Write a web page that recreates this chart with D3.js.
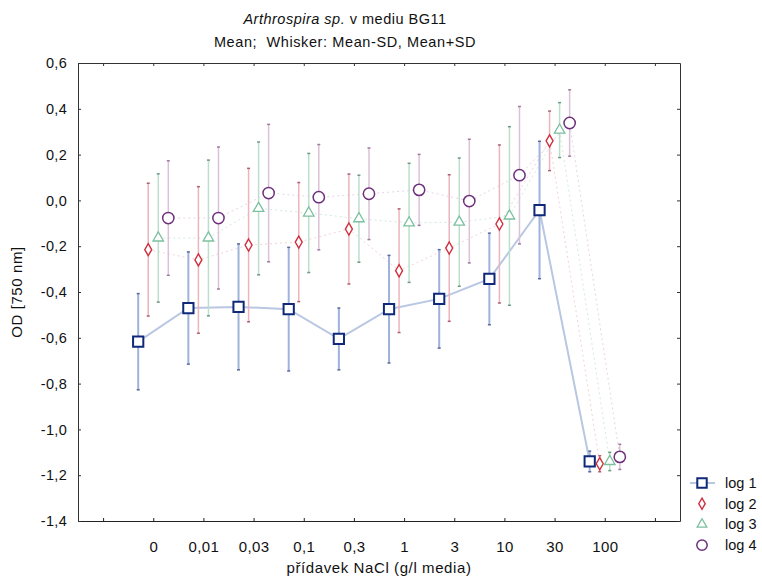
<!DOCTYPE html>
<html>
<head>
<meta charset="utf-8">
<script src="https://cdn.jsdelivr.net/npm/d3@7"></script>
<style>
  body { margin: 0; background: #fff; }
  svg { font-family: "Liberation Sans", Arial, sans-serif; }
</style>
</head>
<body>
<svg width="762" height="578"></svg>
<script>
// NaCl additions on the x axis (categories)
var categories = ["0", "0,01", "0,03", "0,1", "0,3", "1", "3", "10", "30", "100"];
var seriesNames = ["log 1", "log 2", "log 3", "log 4"];

// means and standard deviations per series
var log1Mean = [-0.617, -0.470, -0.465, -0.475, -0.605, -0.475, -0.430, -0.343, -0.042, -1.140];
var log1Sd   = [0.210, 0.245, 0.275, 0.270, 0.135, 0.235, 0.215, 0.200, 0.300, 0.045];
var log2Mean = [-0.215, -0.260, -0.195, -0.182, -0.125, -0.307, -0.208, -0.103, 0.260, -1.150];
var log2Sd   = [0.290, 0.320, 0.335, 0.260, 0.240, 0.270, 0.320, 0.345, 0.130, 0.035];
var log3Mean = [-0.164, -0.164, -0.035, -0.055, -0.080, -0.098, -0.095, -0.068, 0.307, -1.140];
var log3Sd   = [0.280, 0.340, 0.290, 0.260, 0.190, 0.260, 0.280, 0.390, 0.120, 0.040];
var log4Mean = [-0.077, -0.077, 0.032, 0.014, 0.029, 0.046, -0.003, 0.110, 0.338, -1.120];
var log4Sd   = [0.250, 0.310, 0.300, 0.230, 0.200, 0.155, 0.270, 0.300, 0.145, 0.055];

var yTicks = [0.6, 0.4, 0.2, 0.0, -0.2, -0.4, -0.6, -0.8, -1.0, -1.2, -1.4];

var series = [
  { name: seriesNames[0], mean: log1Mean, sd: log1Sd, symbol: d3.symbolSquare, size: 105,
    stroke: "#10287a", sw: 2, bar: "#9fb2db", cap: "#5a6a9a", line: "#b9c7e3", lw: 2, dash: null },
  { name: seriesNames[1], mean: log2Mean, sd: log2Sd, symbol: d3.symbolDiamond, size: 42,
    stroke: "#d0303f", sw: 1.4, bar: "#ecb4bc", cap: "#b06070", line: "#f2d2d6", lw: 1, dash: "2,3" },
  { name: seriesNames[2], mean: log3Mean, sd: log3Sd, symbol: d3.symbolTriangle, size: 48,
    stroke: "#7cc09f", sw: 1.3, bar: "#bcdfcc", cap: "#6a9a80", line: "#d2ebde", lw: 1, dash: "2,3" },
  { name: seriesNames[3], mean: log4Mean, sd: log4Sd, symbol: d3.symbolCircle, size: 100,
    stroke: "#6e2f7c", sw: 1.5, bar: "#dcc2d6", cap: "#a07aa0", line: "#e6d6e6", lw: 1, dash: "2,3" }
];

var plotLeft = 78, plotRight = 680, plotTop = 63, plotBottom = 521;

var svg = d3.select("svg");

// categories sit at index 0..9, the frame leaves 1.5 steps on each side
var x = d3.scaleLinear().domain([-1.5, 10.5]).range([plotLeft, plotRight]);
var y = d3.scaleLinear().domain([-1.4, 0.6]).range([plotBottom, plotTop]);
var offset = [-0.3, -0.1, 0.1, 0.3]; // shift of each series inside a group

var xTickVals = d3.range(-1, 11);

// frame with inward ticks on all four sides
svg.append("g")
    .attr("transform", "translate(0," + plotBottom + ")")
    .call(d3.axisBottom(x).tickValues(xTickVals).tickSizeInner(-3).tickSizeOuter(0)
        .tickFormat(function(d) { return categories[d] || ""; }))
    .call(function(g) {
      g.select(".domain").attr("stroke", "#222");
      g.selectAll(".tick line").attr("stroke", "#222");
      g.selectAll(".tick text").attr("y", 20).attr("font-size", 15)
        .attr("letter-spacing", 0.4).attr("fill", "#111");
    });

svg.append("g")
    .attr("transform", "translate(0," + plotTop + ")")
    .call(d3.axisTop(x).tickValues(xTickVals).tickSizeInner(-3).tickSizeOuter(0).tickFormat(""))
    .call(function(g) {
      g.select(".domain").attr("stroke", "#333");
      g.selectAll(".tick line").attr("stroke", "#333");
    });

svg.append("g")
    .attr("transform", "translate(" + plotLeft + ",0)")
    .call(d3.axisLeft(y).tickValues(yTicks).tickSizeInner(-3).tickSizeOuter(0)
        .tickFormat(function(d) { return d3.format(".1f")(d).replace(".", ",").replace("−", "-"); }))
    .call(function(g) {
      g.select(".domain").attr("stroke", "#333");
      g.selectAll(".tick line").attr("stroke", "#333");
      g.selectAll(".tick text").attr("x", -11).attr("font-size", 14.5)
        .attr("letter-spacing", 0.3).attr("fill", "#111");
    });

svg.append("g")
    .attr("transform", "translate(" + plotRight + ",0)")
    .call(d3.axisRight(y).tickValues(yTicks).tickSizeInner(-3).tickSizeOuter(0).tickFormat(""))
    .call(function(g) {
      g.select(".domain").attr("stroke", "#333");
      g.selectAll(".tick line").attr("stroke", "#333");
    });

function points(s, k) {
  return s.mean.map(function(m, i) {
    return { cx: x(i + offset[k]), m: m, sd: s.sd[i] };
  });
}

// connecting lines first, then error bars and markers on top
series.forEach(function(s, k) {
  svg.append("path")
      .datum(points(s, k))
      .attr("fill", "none")
      .attr("stroke", s.line)
      .attr("stroke-width", s.lw)
      .attr("stroke-dasharray", s.dash)
      .attr("d", d3.line().x(function(d) { return d.cx; }).y(function(d) { return y(d.m); }));
});

series.forEach(function(s, k) {
  var g = svg.append("g");
  var pts = points(s, k);

  g.selectAll("line.bar")
      .data(pts)
      .enter()
      .append("line")
      .attr("class", "bar")
      .attr("x1", function(d) { return d.cx; })
      .attr("x2", function(d) { return d.cx; })
      .attr("y1", function(d) { return y(d.m + d.sd); })
      .attr("y2", function(d) { return y(d.m - d.sd); })
      .attr("stroke", s.bar)
      .attr("stroke-width", k === 0 ? 2 : 1.5);

  // whisker ends
  [1, -1].forEach(function(sign) {
    g.selectAll("line.cap" + (sign > 0 ? "hi" : "lo"))
        .data(pts)
        .enter()
        .append("line")
        .attr("x1", function(d) { return d.cx - 1.5; })
        .attr("x2", function(d) { return d.cx + 1.5; })
        .attr("y1", function(d) { return y(d.m + sign * d.sd); })
        .attr("y2", function(d) { return y(d.m + sign * d.sd); })
        .attr("stroke", s.cap)
        .attr("stroke-width", 1.5);
  });

  g.selectAll("path.mark")
      .data(pts)
      .enter()
      .append("path")
      .attr("class", "mark")
      .attr("d", d3.symbol().type(s.symbol).size(s.size))
      .attr("transform", function(d) { return "translate(" + d.cx + "," + y(d.m) + ")"; })
      .attr("fill", "#fff")
      .attr("stroke", s.stroke)
      .attr("stroke-width", s.sw);
});

// legend to the right of the frame
var legend = svg.append("g").attr("transform", "translate(702,483)");
var legendRows = legend.selectAll("g")
    .data(series)
    .enter()
    .append("g")
    .attr("transform", function(d, i) { return "translate(0," + (i * 20.7) + ")"; });

legendRows.filter(function(d, i) { return i === 0; })
    .append("line")
    .attr("x1", -12).attr("x2", 13)
    .attr("stroke", function(d) { return d.line; })
    .attr("stroke-width", 2);

legendRows.append("path")
    .attr("d", function(d) { return d3.symbol().type(d.symbol).size(d.size * 0.85)(); })
    .attr("fill", "#fff")
    .attr("stroke", function(d) { return d.stroke; })
    .attr("stroke-width", function(d) { return d.sw; });

legendRows.append("text")
    .attr("x", 23)
    .attr("dy", "0.35em")
    .attr("font-size", 14.5)
    .attr("fill", "#111")
    .text(function(d) { return d.name; });

// titles
var title1 = svg.append("text")
    .attr("x", 345).attr("y", 24)
    .attr("text-anchor", "middle")
    .attr("font-size", 14.5)
    .attr("letter-spacing", 0.5)
    .attr("fill", "#111");
title1.append("tspan").attr("font-style", "italic").text("Arthrospira sp.");
title1.append("tspan").text(" v mediu BG11");

svg.append("text")
    .attr("x", 345).attr("y", 47)
    .attr("text-anchor", "middle")
    .attr("font-size", 14.5)
    .attr("letter-spacing", 0.6)
    .attr("fill", "#111")
    .attr("xml:space", "preserve")
    .text("Mean;  Whisker: Mean-SD, Mean+SD");

svg.append("text")
    .attr("x", (plotLeft + plotRight) / 2).attr("y", 573)
    .attr("text-anchor", "middle")
    .attr("font-size", 15)
    .attr("letter-spacing", 0.6)
    .attr("fill", "#111")
    .text("přídavek NaCl (g/l media)");

svg.append("text")
    .attr("transform", "translate(22,292) rotate(-90)")
    .attr("text-anchor", "middle")
    .attr("font-size", 15)
    .attr("letter-spacing", 0.6)
    .attr("fill", "#111")
    .text("OD [750 nm]");
</script>
</body>
</html>
